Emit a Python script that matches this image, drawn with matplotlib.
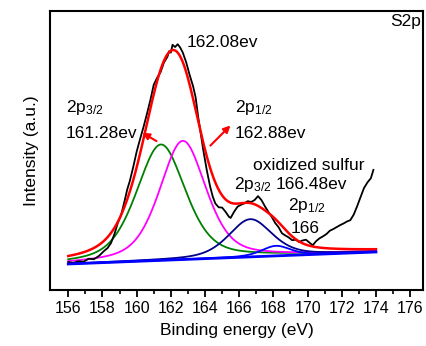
import numpy as np
import matplotlib
matplotlib.use("Agg")
import matplotlib.pyplot as plt

plt.rcParams['font.family'] = ['Liberation Sans', 'DejaVu Sans']
plt.rcParams['mathtext.fontset'] = 'custom'
plt.rcParams['mathtext.rm'] = 'Liberation Sans'
plt.rcParams['mathtext.it'] = 'Liberation Sans'

# measured spectrum (binding energy, intensity)
exp_x = [156.0, 156.3, 156.6, 156.9, 157.2, 157.5, 157.8, 158.1, 158.3, 158.5,
         158.7, 158.9, 159.1, 159.3, 159.45, 159.6, 159.8, 160.0, 160.2, 160.4,
         160.6, 160.8, 161.0, 161.2, 161.4, 161.6, 161.8, 161.9, 162.0, 162.1,
         162.25, 162.4, 162.55, 162.7, 162.9, 163.1, 163.3, 163.45, 163.6, 163.75,
         163.9, 164.1, 164.3, 164.45, 164.6, 164.8, 165.0, 165.2, 165.4, 165.5,
         165.7, 165.9, 166.1, 166.3, 166.5, 166.7, 166.9, 167.1, 167.3, 167.5,
         167.7, 167.9, 168.1, 168.3, 168.5, 168.7, 168.9, 169.1, 169.3, 169.5,
         169.7, 169.9, 170.1, 170.3, 170.5, 170.7, 170.9, 171.1, 171.3, 171.5,
         171.7, 171.9, 172.1, 172.3, 172.5, 172.7, 172.9, 173.1, 173.3, 173.5,
         173.7, 173.85]
exp_y = [0.100, 0.097, 0.103, 0.101, 0.112, 0.110, 0.122, 0.140, 0.150, 0.168,
         0.200, 0.240, 0.270, 0.320, 0.360, 0.390, 0.440, 0.495, 0.540, 0.583,
         0.630, 0.679, 0.735, 0.760, 0.780, 0.815, 0.835, 0.855, 0.850, 0.878,
         0.870, 0.880, 0.868, 0.850, 0.815, 0.770, 0.730, 0.690, 0.620, 0.560,
         0.500, 0.430, 0.370, 0.335, 0.310, 0.296, 0.295, 0.280, 0.262, 0.258,
         0.280, 0.298, 0.305, 0.310, 0.318, 0.315, 0.322, 0.336, 0.322, 0.300,
         0.280, 0.262, 0.240, 0.225, 0.203, 0.195, 0.188, 0.178, 0.180, 0.172,
         0.177, 0.180, 0.170, 0.160, 0.175, 0.185, 0.192, 0.200, 0.212, 0.218,
         0.225, 0.232, 0.238, 0.245, 0.250, 0.270, 0.300, 0.333, 0.365, 0.385,
         0.400, 0.430]

# fitted components: centre, height, FWHM
peak_centers = [161.42, 162.70, 166.65, 168.15]
peak_heights = [0.415, 0.425, 0.135, 0.036]
peak_fwhm = [3.4, 3.2, 3.0, 2.0]
peak_colors = ['#008000', '#FF00FF', '#00008B', '#0000FF']
lorentz_fraction = 0.45
fit_range = [156.0, 174.0]
baseline_ends = [0.093, 0.136]

x = np.linspace(fit_range[0], fit_range[1], 600)
base = np.interp(x, fit_range, baseline_ends)

def pvoigt(x, c, h, w, eta):
    g = np.exp(-4 * np.log(2) * ((x - c) / w) ** 2)
    l = 1.0 / (1.0 + 4 * ((x - c) / w) ** 2)
    return h * ((1 - eta) * g + eta * l)

comps = [pvoigt(x, c, h, w, lorentz_fraction)
         for c, h, w in zip(peak_centers, peak_heights, peak_fwhm)]
envelope = base + np.sum(comps, axis=0)

fig = plt.figure(figsize=(4.27, 3.46), dpi=100)
ax = fig.add_axes([0.117, 0.162, 0.874, 0.807])

ax.plot(exp_x, exp_y, color='black', lw=1.3, zorder=3)
for comp, col in zip(comps, peak_colors):
    ax.plot(x, base + comp, color=col, lw=1.3, zorder=2)
ax.plot(x, envelope, color='red', lw=1.8, zorder=4)
ax.plot(x, base, color='#0000FF', lw=2.0, zorder=5)

ax.set_xlim(154.93, 176.76)
ax.set_ylim(0, 1)
ax.set_xticks(np.arange(156, 177, 2))
ax.set_xticks(np.arange(157, 177, 2), minor=True)
ax.set_yticks([])
ax.tick_params(axis='x', which='major', direction='out', length=5, width=1.3,
               labelsize=11.5, pad=3)
ax.tick_params(axis='x', which='minor', direction='out', length=3, width=1.2)
for s in ax.spines.values():
    s.set_linewidth(1.5)

ax.set_xlabel('Binding energy (eV)', fontsize=12.5, labelpad=5)
ax.set_ylabel('Intensity (a.u.)', fontsize=12.5, labelpad=8)

fs = 12.5
ax.text(162.94, 0.886, '162.08ev', fontsize=fs, ha='left', va='center')
ax.text(176.65, 0.96, 'S2p', fontsize=fs, ha='right', va='center')
ax.text(155.87, 0.636, r'2p$_{3/2}$', fontsize=fs, ha='left', va='baseline')
ax.text(155.87, 0.544, '161.28ev', fontsize=fs, ha='left', va='baseline')
ax.text(165.75, 0.636, r'2p$_{1/2}$', fontsize=fs, ha='left', va='baseline')
ax.text(165.75, 0.544, '162.88ev', fontsize=fs, ha='left', va='baseline')
ax.text(166.8, 0.429, 'oxidized sulfur', fontsize=fs, ha='left', va='baseline')
ax.text(165.69, 0.362, r'2p$_{3/2}$', fontsize=fs, ha='left', va='baseline')
ax.text(168.14, 0.362, '166.48ev', fontsize=fs, ha='left', va='baseline')
ax.text(168.84, 0.288, r'2p$_{1/2}$', fontsize=fs, ha='left', va='baseline')
ax.text(169.02, 0.205, '166', fontsize=fs, ha='left', va='baseline')

arrow = dict(arrowstyle='-|>', color='red', lw=1.5, mutation_scale=10)
ax.annotate('', xy=(160.2, 0.568), xytext=(161.3, 0.528), arrowprops=arrow)
ax.annotate('', xy=(165.6, 0.596), xytext=(164.2, 0.51), arrowprops=arrow)

fig.savefig('out.png', dpi=100)
